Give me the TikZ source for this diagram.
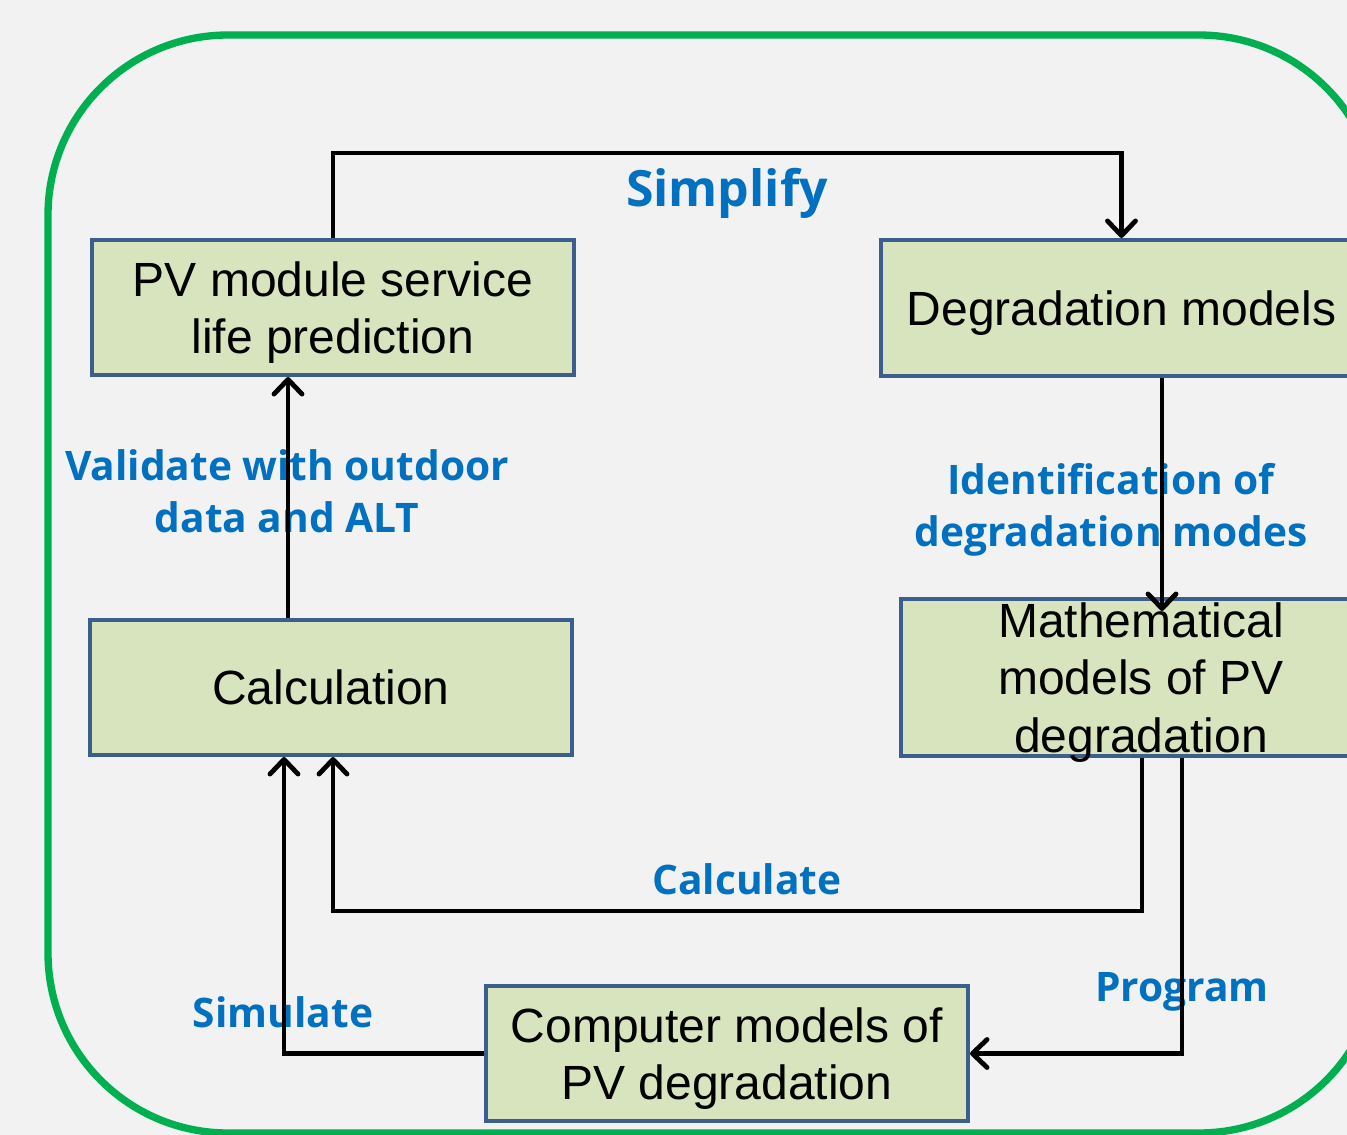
\documentclass[tikz,border=0pt]{standalone}
\usepackage{fontspec}
\setmainfont{Liberation Sans}
\newfontfamily\lblfont{Open Sans}
\usetikzlibrary{arrows.meta,calc}
\definecolor{bggray}{HTML}{F2F2F2}
\definecolor{framegreen}{HTML}{00B050}
\definecolor{boxfill}{HTML}{D7E4BD}
\definecolor{boxline}{HTML}{3B5E8C}
\definecolor{lblblue}{HTML}{0070C0}
% box text sits a little below the middle, as in the slide
\newcommand\stagetext[1]{\raisebox{-4.5pt}[\dimexpr\height-12pt][\dimexpr\depth-12pt]{%
  \begin{tabular}{@{}c@{}}#1\end{tabular}}}
\tikzset{
  >={Straight Barb[length=11pt,width=21pt,line cap=round,line join=round]},
  frame/.style={draw=framegreen,line width=5.5pt,rounded corners=135pt},
  stage/.style={draw=boxline,fill=boxfill,line width=3pt,inner sep=0pt,
    font=\fontsize{36}{43}\selectfont},
  lbl/.style={text=lblblue,align=center,inner sep=0pt,
    font=\lblfont\bfseries\fontsize{30.5}{39}\selectfont},
  flow/.style={->,draw=black,line width=3.6pt}
}
\begin{document}
\begin{tikzpicture}[x=0.75pt,y=-0.75pt]
  %--- canvas ------------------------------------------------------------------
  \fill[bggray] (0,0) rectangle (1347,1135);
  \useasboundingbox (0,0) rectangle (1347,1135);
  \clip (0,0) rectangle (1347,1135);
  \draw[frame] (48,35) rectangle (1379,1133);

  %--- stages ------------------------------------------------------------------
  \node[stage,minimum width=482*0.75pt,minimum height=135*0.75pt]
       (pv) at (333,307.5) {\stagetext{PV module service\\life prediction}};
  \node[stage,minimum width=481*0.75pt,minimum height=136*0.75pt]
       (deg) at (1121.5,308) {\stagetext{Degradation models}};
  \node[stage,minimum width=482*0.75pt,minimum height=135*0.75pt]
       (calc) at (331,687.5) {\stagetext{Calculation}};
  \node[stage,minimum width=480*0.75pt,minimum height=157*0.75pt]
       (math) at (1141,677.5) {\stagetext{Mathematical\\models of PV\\degradation}};
  \node[stage,minimum width=482*0.75pt,minimum height=135*0.75pt]
       (comp) at (727,1053.5) {\stagetext{Computer models of\\PV degradation}};

  %--- labels ------------------------------------------------------------------
  \node[lbl,font=\lblfont\bfseries\fontsize{37.5}{44}\selectfont]
       (simplify) at (727,193) {Simplify};
  \node[lbl] (validate) at (287,491) {Validate with outdoor\\data and ALT};
  \node[lbl] (ident) at (1111,510) {Identification of\\degradation modes};
  \node[lbl] (calculate) at (747,879) {Calculate};
  \node[lbl] (program) at (1182,992) {Program};
  \node[lbl] (simulate) at (283,1012) {Simulate};

  %--- connectors --------------------------------------------------------------
  \draw[flow] (pv.north) -- ++(0,-85) -| (deg.north);
  \draw[flow] ($(deg.south)+(40.5,0)$) -- ($(math.north)+(21,14)$);
  \draw[flow] ($(math.south)+(1,0)$) -- ++(0,153) -| ($(calc.south)+(2,0)$);
  \draw[flow] ($(math.south)+(41,0)$) |- (comp.east);
  \draw[flow] (comp.west) -| ($(calc.south)+(-47,0)$);
  \draw[flow] ($(calc.north)+(-43,0)$) coordinate (v) -- (v |- pv.south);
\end{tikzpicture}
\end{document}
